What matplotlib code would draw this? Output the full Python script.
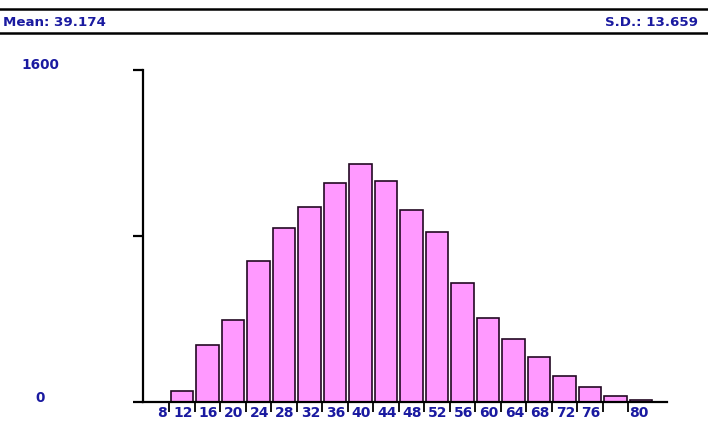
import matplotlib
matplotlib.use("Agg")
import matplotlib.pyplot as plt
from matplotlib.lines import Line2D
import matplotlib.transforms as mtransforms

# histogram bins (lower bound of each 4-wide bin) and counts
bins = [8, 12, 16, 20, 24, 28, 32, 36, 40, 44, 48, 52, 56, 60, 64, 68, 72, 76, 80, 84]
counts = [0, 53, 278, 397, 680, 841, 943, 1055, 1150, 1066, 927, 821, 573, 406, 307, 217, 127, 72, 32, 13]
tick_labels = ["8", "12", "16", "20", "24", "28", "32", "36", "40", "44", "48",
               "52", "56", "60", "64", "68", "72", "76", "", "80"]
y_labels = ["0", "1600"]
mean_text = "Mean: 39.174"
sd_text = "S.D.: 13.659"

text_color = "#1a1aa0"
bar_color = "#ff99ff"
edge_color = "#220822"

W, H = 708, 431
fig = plt.figure(figsize=(W / 100, H / 100), dpi=100)
fig.patch.set_facecolor("white")

# header band with the summary stats
for ypx in (10, 33.5):
    fig.add_artist(Line2D([0, 1], [1 - ypx / H, 1 - ypx / H], color="black",
                          linewidth=1.8, transform=fig.transFigure))
fig.text(3 / W, 1 - 22 / H, mean_text, color=text_color, fontsize=9.6,
         fontweight="bold", ha="left", va="center")
fig.text(698 / W, 1 - 22 / H, sd_text, color=text_color, fontsize=9.6,
         fontweight="bold", ha="right", va="center")

ax = fig.add_axes([143 / W, (H - 403.3) / H, (667 - 143) / W, (403.3 - 71.3) / H])
pos = list(range(len(bins)))
ax.bar(pos, counts, width=0.9, color=bar_color, edgecolor=edge_color,
       linewidth=1.2, zorder=2)

ax.set_xlim(-0.53, 20.02)
ax.set_ylim(0, 1600)

for side in ("top", "right"):
    ax.spines[side].set_visible(False)
ax.spines["left"].set_linewidth(1.6)
ax.spines["bottom"].set_linewidth(1.6)
ax.spines["bottom"].set_zorder(3)

ax.set_yticks([0, 800, 1600])
ax.set_yticklabels([])
ax.tick_params(axis="y", length=7, width=1.6, direction="out")

# ticks between the bins, labels drawn separately
ax.set_xticks([p + 0.5 for p in pos[:-1]])
ax.set_xticklabels([])
ax.tick_params(axis="x", length=7, width=1.3, direction="out")

trans = mtransforms.blended_transform_factory(ax.transData, fig.transFigure)
for p, lab in zip(pos, tick_labels):
    if not lab:
        continue
    if lab == "80":
        ax.text(p - 0.47, 1 - 413.5 / H, lab, transform=trans, ha="left", va="center",
                color=text_color, fontsize=10, fontweight="bold")
    else:
        ax.text(p + 0.42, 1 - 413.5 / H, lab, transform=trans, ha="right", va="center",
                color=text_color, fontsize=10, fontweight="bold")

fig.text(40 / W, 1 - 65 / H, y_labels[1], color=text_color, fontsize=9.8,
         fontweight="bold", ha="center", va="center")
fig.text(40 / W, 1 - 398 / H, y_labels[0], color=text_color, fontsize=9.8,
         fontweight="bold", ha="center", va="center")

fig.savefig("out.png", dpi=100, facecolor="white")
